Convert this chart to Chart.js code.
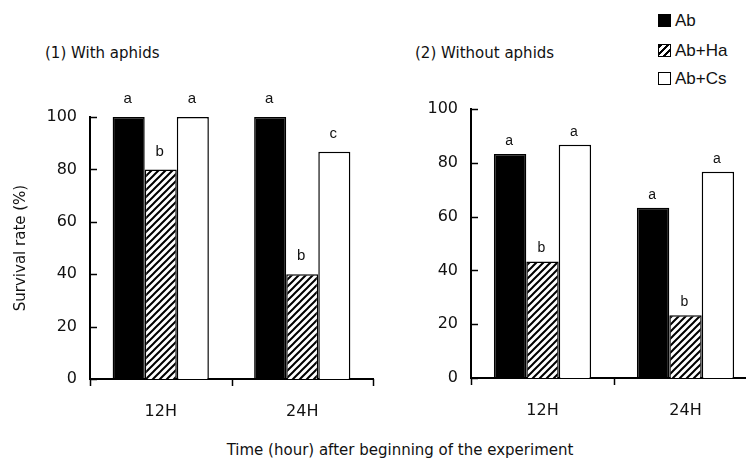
<!DOCTYPE html>
<html>
<head>
<meta charset="utf-8">
<script src="https://cdn.jsdelivr.net/npm/chart.js@4"></script>
<style>
  body { margin: 0; width: 746px; height: 459px; overflow: hidden; position: relative; background: #fff; font-family: "DejaVu Sans", sans-serif; color: #111; }
  .abs { position: absolute; white-space: nowrap; }
  .panelTitle { font-size: 15px; line-height: 18px; }
  .legend { left: 658px; font-family: "Liberation Sans", sans-serif; font-size: 17px; line-height: 20px; }
  .sw { display: inline-block; width: 11px; height: 11px; border: 1px solid #000; vertical-align: -1px; margin-right: 4px; }
</style>
</head>
<body>
<div class="abs panelTitle" style="left:45px;top:44px">(1) With aphids</div>
<div class="abs panelTitle" style="left:415px;top:44px">(2) Without aphids</div>

<div class="abs legend" style="top:11px"><span class="sw" style="background:#000"></span>Ab</div>
<div class="abs legend" style="top:41px"><span class="sw" style="background:repeating-linear-gradient(-45deg,#fff 0 3px,#000 3px 5px)"></span>Ab+Ha</div>
<div class="abs legend" style="top:69px"><span class="sw" style="background:#fff"></span>Ab+Cs</div>

<canvas id="c1" class="abs" width="380" height="430" style="left:0;top:0"></canvas>
<canvas id="c2" class="abs" width="360" height="430" style="left:400px;top:0"></canvas>

<div class="abs" style="left:0;width:800px;text-align:center;top:441px;font-size:15px;line-height:18px">Time (hour) after beginning of the experiment</div>

<script>
// categories and series
const timepoints = ['12H', '24H'];
const seriesNames = ['Ab', 'Ab+Ha', 'Ab+Cs'];

// (1) with aphids
const withAb = [100, 100];
const withHa = [80, 40];
const withCs = [100, 86.7];
const withLetters = [['a', 'a'], ['b', 'b'], ['a', 'c']];

// (2) without aphids
const withoutAb = [83.3, 63.3];
const withoutHa = [43.3, 23.3];
const withoutCs = [86.7, 76.7];
const withoutLetters = [['a', 'a'], ['b', 'b'], ['a', 'a']];

const yTicks = [0, 20, 40, 60, 80, 100];

// diagonal hatch for Ab+Ha
function hatchPattern() {
    const s = 7;
    const c = document.createElement('canvas');
    c.width = s; c.height = s;
    const g = c.getContext('2d');
    g.fillStyle = '#fff';
    g.fillRect(0, 0, s, s);
    g.strokeStyle = '#000';
    g.lineWidth = 2;
    g.beginPath();
    g.moveTo(-1, s + 1); g.lineTo(s + 1, -1);
    g.moveTo(-1, 1); g.lineTo(1, -1);
    g.moveTo(s - 1, s + 1); g.lineTo(s + 1, s - 1);
    g.stroke();
    return g.createPattern(c, 'repeat');
}

// letters over the bars, inward y ticks, downward ticks between categories
const extrasPlugin = {
    id: 'extras',
    afterDraw(chart, args, opts) {
        const ctx = chart.ctx;
        const area = chart.chartArea;
        const x = chart.scales.x;
        const y = chart.scales.y;
        ctx.save();
        ctx.strokeStyle = '#000';
        ctx.lineWidth = 1.5;
        yTicks.forEach(v => {
            const py = Math.round(y.getPixelForValue(v)) + 0.5;
            ctx.beginPath();
            ctx.moveTo(area.left, py);
            ctx.lineTo(area.left + 7, py);
            ctx.stroke();
        });
        for (let i = 0; i <= timepoints.length; i++) {
            const px = Math.round(x.getPixelForValue(i - 0.5)) + 0.5;
            ctx.beginPath();
            ctx.moveTo(px, area.bottom);
            ctx.lineTo(px, area.bottom + 7);
            ctx.stroke();
        }
        ctx.fillStyle = '#111';
        ctx.font = opts.font;
        ctx.textAlign = 'center';
        ctx.textBaseline = 'middle';
        opts.letters.forEach((row, i) => {
            chart.getDatasetMeta(i).data.forEach((bar, j) => {
                ctx.fillText(row[j], bar.x - 1, bar.y - opts.offset);
            });
        });
        ctx.restore();
    }
};

function makePanel(id, ab, ha, cs, letters, cfg) {
    const base = { borderColor: '#000', borderWidth: 1.5, categoryPercentage: 0.68, barPercentage: 1.0 };
    return new Chart(document.getElementById(id), {
        type: 'bar',
        data: {
            labels: timepoints,
            datasets: [
                { ...base, label: seriesNames[0], data: ab, backgroundColor: '#000' },
                { ...base, label: seriesNames[1], data: ha, backgroundColor: hatchPattern() },
                { ...base, label: seriesNames[2], data: cs, backgroundColor: '#fff' }
            ]
        },
        options: {
            responsive: false,
            animation: false,
            layout: { padding: { top: cfg.top, right: cfg.right, left: 0, bottom: 0 } },
            plugins: {
                legend: { display: false },
                tooltip: { enabled: false },
                extras: { letters: letters, offset: cfg.letterOffset, font: cfg.letterFont }
            },
            scales: {
                x: {
                    grid: { display: false, drawTicks: false },
                    border: { display: true, color: '#000', width: 2 },
                    ticks: { color: '#111', font: { family: 'DejaVu Sans', size: 16 }, padding: 23 },
                    afterFit: s => { s.height = cfg.xHeight; }
                },
                y: {
                    min: 0, max: 100,
                    afterBuildTicks: s => { s.ticks = yTicks.map(v => ({ value: v })); },
                    grid: { display: false, drawTicks: false },
                    border: { display: true, color: '#000', width: 2 },
                    ticks: { color: '#111', font: { family: 'DejaVu Sans', size: 16 }, padding: 13 },
                    title: {
                        display: cfg.yTitle,
                        text: 'Survival rate (%)',
                        color: '#111',
                        font: { family: 'DejaVu Sans', size: 15 },
                        padding: { top: 12, bottom: 0 }
                    },
                    afterFit: s => { s.width = cfg.yWidth; }
                }
            }
        },
        plugins: [extrasPlugin]
    });
}

makePanel('c1', withAb, withHa, withCs, withLetters,
    { top: 117, right: 7, xHeight: 51, yWidth: 90, yTitle: true, letterOffset: 18, letterFont: '15px "Liberation Sans"' });
makePanel('c2', withoutAb, withoutHa, withoutCs, withoutLetters,
    { top: 109, right: 3, xHeight: 52, yWidth: 71, yTitle: false, letterOffset: 13, letterFont: '14px "Liberation Sans"' });
</script>
</body>
</html>
